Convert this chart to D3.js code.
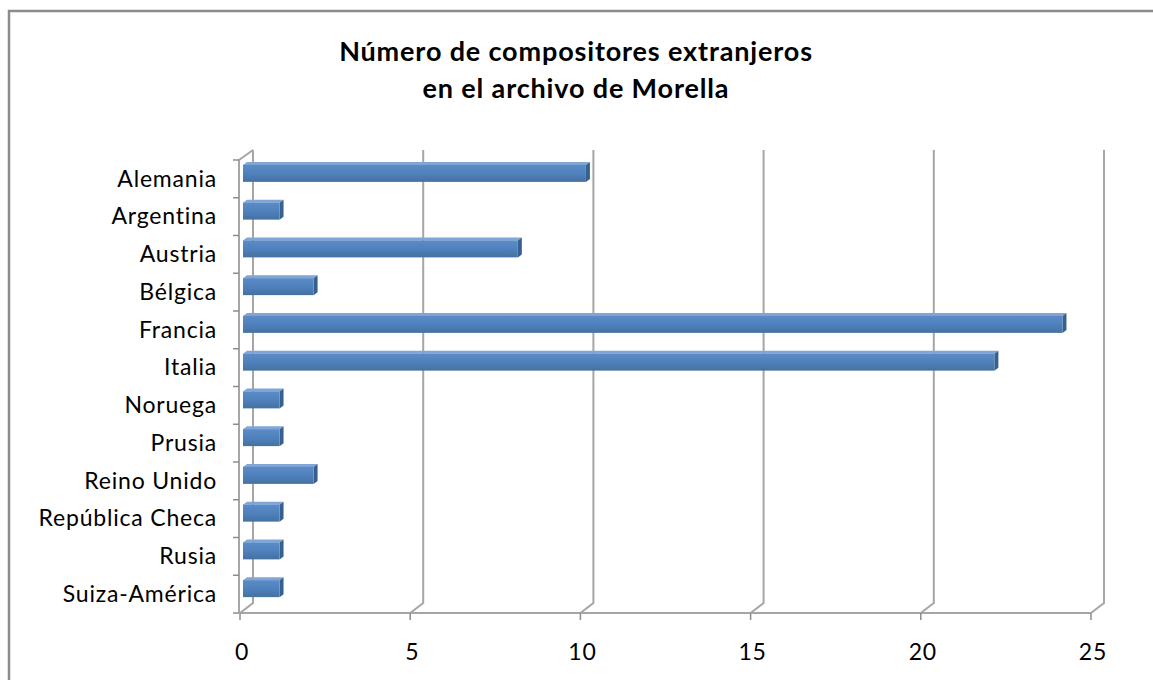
<html>
<head>
<meta charset="utf-8">
<script src="https://cdn.jsdelivr.net/npm/d3@7"></script>
<style>
  body { margin: 0; background: #fff; }
  svg text { font-family: Lato, "Open Sans", sans-serif; fill: #000; }
  .title { font-weight: bold; font-size: 27px; letter-spacing: 0.85px; text-anchor: middle; }
  .cat { font-size: 23px; letter-spacing: 0.8px; text-anchor: end; }
  .tick { font-size: 23px; letter-spacing: 0.8px; text-anchor: middle; }
</style>
</head>
<body>
<script>
var categories = ["Alemania", "Argentina", "Austria", "Bélgica", "Francia", "Italia",
  "Noruega", "Prusia", "Reino Unido", "República Checa", "Rusia", "Suiza-América"];
var values = [10, 1, 8, 2, 24, 22, 1, 1, 2, 1, 1, 1];
var xTicks = [0, 5, 10, 15, 20, 25];
var titleLines = ["Número de compositores extranjeros", "en el archivo de Morella"];

var w = 1153, h = 680;
var depthX = 13, depthY = -10;   // 3d offset of back wall
var plotLeft = 240, plotRight = 1091, plotTop = 160, plotBottom = 613;

var svg = d3.select("body").append("svg")
  .attr("width", w).attr("height", h);

// chart frame (right and bottom edges run off the picture)
svg.append("rect")
  .attr("x", 9).attr("y", 11)
  .attr("width", w + 20).attr("height", h + 20)
  .attr("fill", "#fff").attr("stroke", "#8c8c8c").attr("stroke-width", 2.5);

var x = d3.scaleLinear().domain([0, 25]).range([plotLeft, plotRight]);
var y = d3.scaleBand().domain(categories).range([plotTop, plotBottom]);

var grid = svg.append("g").attr("stroke", "#a6a6a6").attr("stroke-width", 2).attr("fill", "none");

// back wall gridlines + floor diagonals
xTicks.forEach(function(t) {
  var xf = x(t), xb = x(t) + depthX;
  grid.append("path")
    .attr("d", "M" + xb + "," + (plotTop + depthY) + "L" + xb + "," + (plotBottom + depthY) +
      "L" + xf + "," + plotBottom);
});
// floor front edge
grid.append("line")
  .attr("x1", plotLeft).attr("x2", plotRight)
  .attr("y1", plotBottom).attr("y2", plotBottom);
// left wall front edge
grid.append("path")
  .attr("d", "M" + (plotLeft - 1) + "," + plotBottom + "L" + (plotLeft - 1) + "," + plotTop +
    "L" + (plotLeft + depthX) + "," + (plotTop + depthY));

// category ticks
var tickG = svg.append("g").attr("stroke", "#8c8c8c").attr("stroke-width", 1.5);
d3.range(categories.length + 1).forEach(function(i) {
  var yy = plotTop + i * y.step();
  tickG.append("line").attr("x1", plotLeft - 7).attr("x2", plotLeft - 1).attr("y1", yy).attr("y2", yy);
});
xTicks.forEach(function(t) {
  tickG.append("line").attr("x1", x(t)).attr("x2", x(t)).attr("y1", plotBottom).attr("y2", plotBottom + 7);
});

// bars
var defs = svg.append("defs");
var grad = defs.append("linearGradient").attr("id", "barFace")
  .attr("x1", 0).attr("y1", 0).attr("x2", 0).attr("y2", 1);
grad.append("stop").attr("offset", "0%").attr("stop-color", "#5b8cc8");
grad.append("stop").attr("offset", "50%").attr("stop-color", "#4f81bd");
grad.append("stop").attr("offset", "100%").attr("stop-color", "#44719f");

var barH = 17, capX = 4, capY = -3;
var bars = svg.append("g").selectAll("g").data(categories).enter().append("g");

bars.each(function(d, i) {
  var g = d3.select(this);
  var cy = y(d) + y.bandwidth() / 2 - 5.5;
  var top = cy - barH / 2, bot = cy + barH / 2;
  var left = x(0) + 3, right = x(values[i]) + 5.5;
  // top face
  g.append("path")
    .attr("d", "M" + left + "," + top + "L" + (left + capX) + "," + (top + capY) +
      "L" + (right + capX) + "," + (top + capY) + "L" + right + "," + top + "Z")
    .attr("fill", "#7fa6d6");
  // end cap
  g.append("path")
    .attr("d", "M" + right + "," + top + "L" + (right + capX) + "," + (top + capY) +
      "L" + (right + capX) + "," + (bot + capY) + "L" + right + "," + bot + "Z")
    .attr("fill", "#35608f");
  // front face
  g.append("rect")
    .attr("x", left).attr("y", top)
    .attr("width", right - left).attr("height", barH)
    .attr("fill", "url(#barFace)");
});

// category labels
svg.append("g").selectAll("text").data(categories).enter().append("text")
  .attr("class", "cat")
  .attr("x", 217)
  .attr("y", function(d) { return y(d) + y.bandwidth() / 2 + 2; })
  .attr("dominant-baseline", "middle")
  .text(function(d) { return d; });

// value tick labels
svg.append("g").selectAll("text").data(xTicks).enter().append("text")
  .attr("class", "tick")
  .attr("x", function(d) { return x(d) + 2; })
  .attr("y", 660)
  .text(function(d) { return d; });

// title
svg.append("g").selectAll("text").data(titleLines).enter().append("text")
  .attr("class", "title")
  .attr("x", 576)
  .attr("y", function(d, i) { return 61 + i * 37; })
  .text(function(d) { return d; });
</script>
</body>
</html>
